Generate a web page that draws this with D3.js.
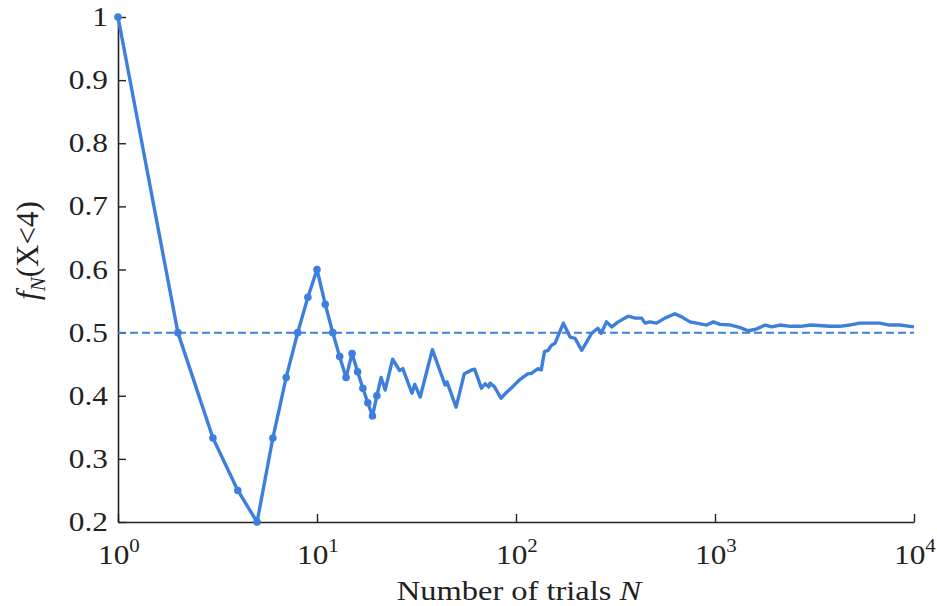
<!DOCTYPE html>
<html>
<head>
<meta charset="utf-8">
<script src="https://cdn.jsdelivr.net/npm/d3@7"></script>
<style>
  body { margin: 0; background: #fff; }
  text { font-family: "Liberation Serif", "Times New Roman", Times, serif; fill: #222; }
</style>
</head>
<body>
<div id="chart-area"></div>
<script>
// trial counts and running frequency f_N(X<4)
var trials = [1, 2, 3, 4, 5, 6, 7, 8, 9, 10, 11, 12, 13, 14, 15, 16, 17, 18, 19, 20,
  21, 22, 24, 26, 27, 30, 31, 33, 38, 44, 45, 50, 55, 60, 62, 67, 70, 73, 74, 78,
  84, 90, 96, 104, 115, 119, 129, 134, 139, 145, 151, 157, 173, 187, 198, 214, 240,
  258, 268, 285, 303, 326, 366, 398, 428, 445, 470, 508, 560, 628, 680, 748, 810,
  909, 981, 1060, 1200, 1340, 1465, 1590, 1790, 1930, 2120, 2390, 2690, 3030, 3770,
  4240, 4750, 5330, 6000, 6720, 7550, 8490, 9540, 10000];
var freq = [1, 0.5, 0.333, 0.25, 0.2, 0.333, 0.429, 0.5, 0.556, 0.6, 0.545, 0.5, 0.462,
  0.429, 0.467, 0.438, 0.412, 0.389, 0.368, 0.4,
  0.429, 0.409, 0.458, 0.44, 0.443, 0.404, 0.418, 0.398, 0.473, 0.417, 0.422, 0.382,
  0.435, 0.441, 0.442, 0.412, 0.419, 0.414, 0.42, 0.414, 0.396, 0.406, 0.414, 0.425,
  0.435, 0.435, 0.443, 0.441, 0.47, 0.472, 0.48, 0.483, 0.515, 0.493, 0.491, 0.472,
  0.499, 0.507, 0.499, 0.517, 0.509, 0.517, 0.526, 0.523, 0.523, 0.515, 0.517, 0.515,
  0.523, 0.53, 0.525, 0.517, 0.515, 0.512, 0.517, 0.513, 0.512, 0.508, 0.503, 0.505,
  0.512, 0.509, 0.512, 0.51, 0.51, 0.512, 0.51, 0.51, 0.512, 0.515, 0.515, 0.515,
  0.512, 0.512, 0.51, 0.509];
var markedUpTo = 20;          // trials that get a dot
var refLevel = 0.5;           // dashed reference line
var xTickValues = [1, 10, 100, 1000, 10000];
var xTickExp = ["0", "1", "2", "3", "4"];
var yTickValues = [0.2, 0.3, 0.4, 0.5, 0.6, 0.7, 0.8, 0.9, 1];
var yTickLabels = ["0.2", "0.3", "0.4", "0.5", "0.6", "0.7", "0.8", "0.9", "1"];

var margin = {top: 17, right: 23, bottom: 84, left: 118};
var width = 937 - margin.left - margin.right;
var height = 606 - margin.top - margin.bottom;
var blue = "#3d7fdd";
var stretch = 1.16;

var data = trials.map((n, i) => ({n: n, f: freq[i]}));

var x = d3.scaleLog().domain([1, 10000]).range([0, width]);
var y = d3.scaleLinear().domain([0.2, 1]).range([height, 0]);

var svg = d3.select("#chart-area").append("svg")
  .attr("width", 937)
  .attr("height", 606);

var g = svg.append("g")
  .attr("transform", "translate(" + margin.left + "," + margin.top + ")");

// minor ticks on the log axis
var minor = [];
for (var p = 1; p < 10000; p *= 10) {
  for (var k = 2; k <= 9; k++) minor.push(p * k);
}

var xAxisGroup = g.append("g")
  .attr("transform", "translate(0," + height + ")");
xAxisGroup.call(d3.axisBottom(x).tickValues(minor).tickSize(-4).tickSizeOuter(0).tickFormat(""));
xAxisGroup.call(d3.axisBottom(x).tickValues(xTickValues).tickSize(-8).tickSizeOuter(0).tickFormat(""));

var yAxisGroup = g.append("g");
yAxisGroup.call(d3.axisLeft(y).tickValues(yTickValues).tickSize(-8).tickSizeOuter(0).tickFormat(""));

svg.selectAll(".domain").attr("stroke", "#222").attr("stroke-width", 1.6);
svg.selectAll(".tick line").attr("stroke", "#222").attr("stroke-width", 1.4);

// tick labels
g.selectAll(".ylab")
  .data(yTickValues)
  .enter().append("text")
  .attr("class", "ylab")
  .attr("transform", (d) => "translate(-10," + (y(d) + 9) + ") scale(" + stretch + ",1)")
  .attr("text-anchor", "end")
  .attr("font-size", "27px")
  .text((d, i) => yTickLabels[i]);

var xl = g.selectAll(".xlab")
  .data(xTickValues)
  .enter().append("text")
  .attr("class", "xlab")
  .attr("transform", (d) => "translate(" + (x(d) - 20) + "," + (height + 42) + ") scale(" + stretch + ",1)")
  .attr("font-size", "27px");
xl.append("tspan").text("10");
xl.append("tspan").attr("dy", -12).attr("font-size", "18px").text((d, i) => xTickExp[i]);

// axis titles
var xt = g.append("text")
  .attr("transform", "translate(" + (x(100) + 3) + "," + (height + 78) + ") scale(" + stretch + ",1)")
  .attr("text-anchor", "middle")
  .attr("font-size", "28px");
xt.append("tspan").text("Number of trials ");
xt.append("tspan").attr("font-style", "italic").text("N");

var yt = g.append("text")
  .attr("transform", "translate(-80," + (y(0.63)) + ") rotate(-90)")
  .attr("text-anchor", "middle")
  .attr("font-size", "31px");
yt.append("tspan").attr("font-style", "italic").text("f");
yt.append("tspan").attr("font-style", "italic").attr("font-size", "21px").attr("dy", 7).text("N");
yt.append("tspan").attr("dy", -7).text("(X<4)");

// dashed reference
g.append("line")
  .attr("x1", x(1))
  .attr("x2", x(10000))
  .attr("y1", y(refLevel))
  .attr("y2", y(refLevel))
  .attr("stroke", blue)
  .attr("stroke-width", 2)
  .attr("stroke-dasharray", "8,4");

var line = d3.line()
  .x((d) => x(d.n))
  .y((d) => y(d.f));

g.append("path")
  .datum(data)
  .attr("fill", "none")
  .attr("stroke", blue)
  .attr("stroke-width", 3.4)
  .attr("stroke-linejoin", "round")
  .attr("d", line);

g.selectAll("circle")
  .data(data.filter((d) => d.n <= markedUpTo))
  .enter().append("circle")
  .attr("cx", (d) => x(d.n))
  .attr("cy", (d) => y(d.f))
  .attr("r", 3.8)
  .attr("fill", blue);
</script>
</body>
</html>
